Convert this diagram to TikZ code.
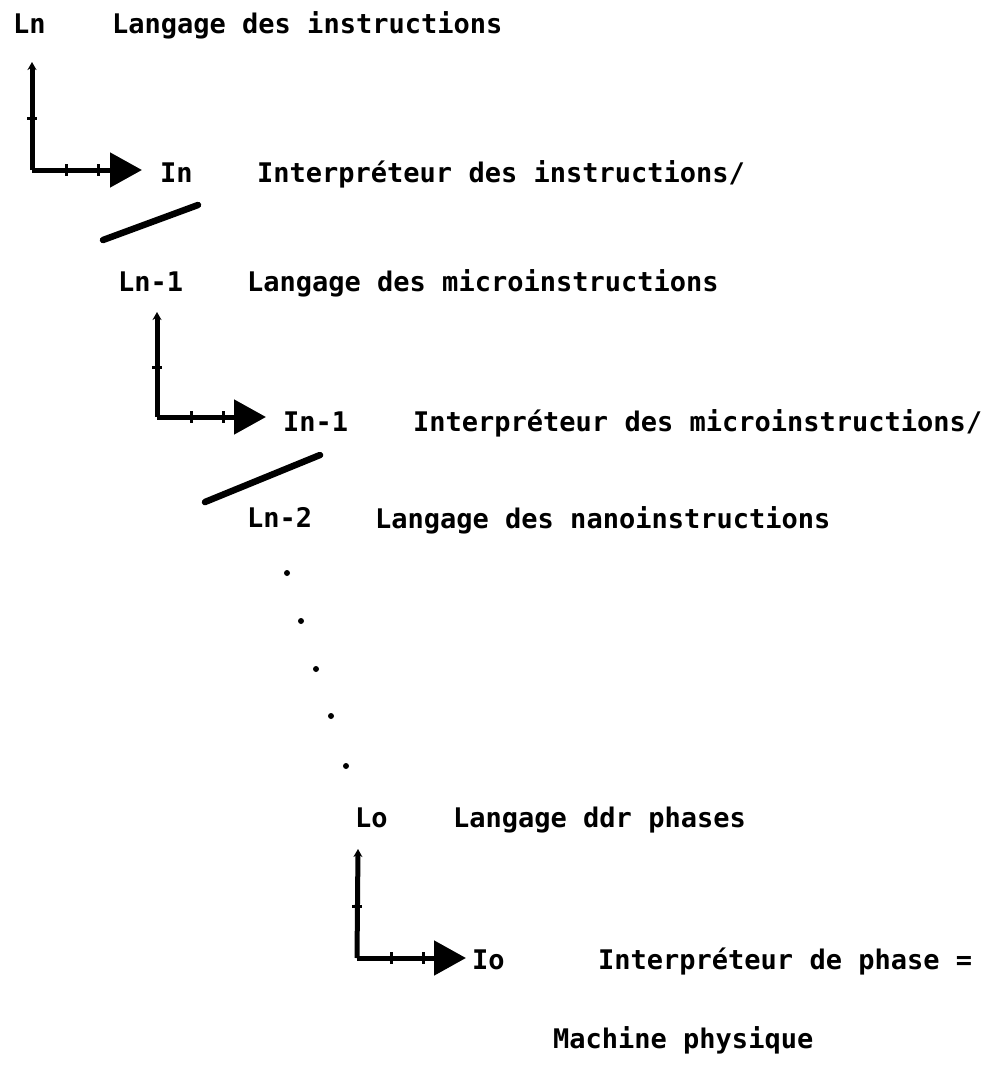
\documentclass[tikz,border=0pt]{standalone}
\usepackage{fontspec}
\setmonofont{DejaVu Sans Mono}
\usetikzlibrary{arrows.meta}
\begin{document}
\begin{tikzpicture}[x=1pt,y=-1pt]
    \tikzstyle{txt}=[anchor=base west, inner sep=0pt, font=\fontsize{27}{30}\selectfont\ttfamily\bfseries]
    \tikzstyle{axis}=[line width=5pt]
    \tikzstyle{tick}=[line width=3pt]
    \tikzstyle{slash}=[line width=6.5pt, line cap=round]
    \tikzstyle{up}=[-{Stealth[length=8pt,width=9pt]}]
    \tikzstyle{right}=[-{Triangle[length=32pt,width=34pt]}]
    \useasboundingbox (0,0) rectangle (989,1080);

    % level n
    \node[txt] (ln) at (13,33) {Ln};
    \node[txt] (lang-n) at (112,33) {Langage des instructions};
    \coordinate (o1) at (32,170);
    \coordinate (t1) at (32,62);
    \coordinate (h1) at (142,170);
    \draw[axis,up] (o1) -- (t1);
    \draw[axis,right] (o1) -- (h1);
    \draw[tick] ([shift={(-5,-52)}]o1) -- ([shift={(5,-52)}]o1)
                ([shift={(34,-6)}]o1) -- ([shift={(34,6)}]o1)
                ([shift={(66,-6)}]o1) -- ([shift={(66,6)}]o1);
    \node[txt] (in) at (160,182) {In};
    \node[txt] (interp-n) at (257,182) {Interpréteur des instructions/};
    \draw[slash] (103,240) -- (198,205);

    % level n-1
    \node[txt] (ln1) at (118,291) {Ln-1};
    \node[txt] (lang-n1) at (247,291) {Langage des microinstructions};
    \coordinate (o2) at (157,417);
    \coordinate (t2) at (157,312);
    \coordinate (h2) at (266,417);
    \draw[axis,up] (o2) -- (t2);
    \draw[axis,right] (o2) -- (h2);
    \draw[tick] ([shift={(-5,-50)}]o2) -- ([shift={(5,-50)}]o2)
                ([shift={(34,-6)}]o2) -- ([shift={(34,6)}]o2)
                ([shift={(66,-6)}]o2) -- ([shift={(66,6)}]o2);
    \node[txt] (in1) at (283,431) {In-1};
    \node[txt] (interp-n1) at (413,431) {Interpréteur des microinstructions/};
    \draw[slash] (205,502) -- (320,455);

    % level n-2
    \node[txt] (ln2) at (247,527) {Ln-2};
    \node[txt] (lang-n2) at (375,528) {Langage des nanoinstructions};
    \fill (287,573) circle (3pt)
          (301,621) circle (3pt)
          (316,669) circle (3pt)
          (331,716) circle (3pt)
          (346,766) circle (3pt);

    % level 0
    \node[txt] (lo) at (355,827) {Lo};
    \node[txt] (lang-o) at (453,827) {Langage ddr phases};
    \coordinate (o3) at (357,958);
    \coordinate (t3) at (358,849);
    \coordinate (h3) at (466,958);
    \draw[axis,up] (o3) -- (t3);
    \draw[axis,right] (o3) -- (h3);
    \draw[tick] ([shift={(-5,-52)}]o3) -- ([shift={(5,-52)}]o3)
                ([shift={(34,-6)}]o3) -- ([shift={(34,6)}]o3)
                ([shift={(66,-6)}]o3) -- ([shift={(66,6)}]o3);
    \node[txt] (io) at (472,969) {Io};
    \node[txt] (interp-o) at (598,969) {Interpréteur de phase =};
    \node[txt] (machine) at (553,1048) {Machine physique};

\end{tikzpicture}
\end{document}
